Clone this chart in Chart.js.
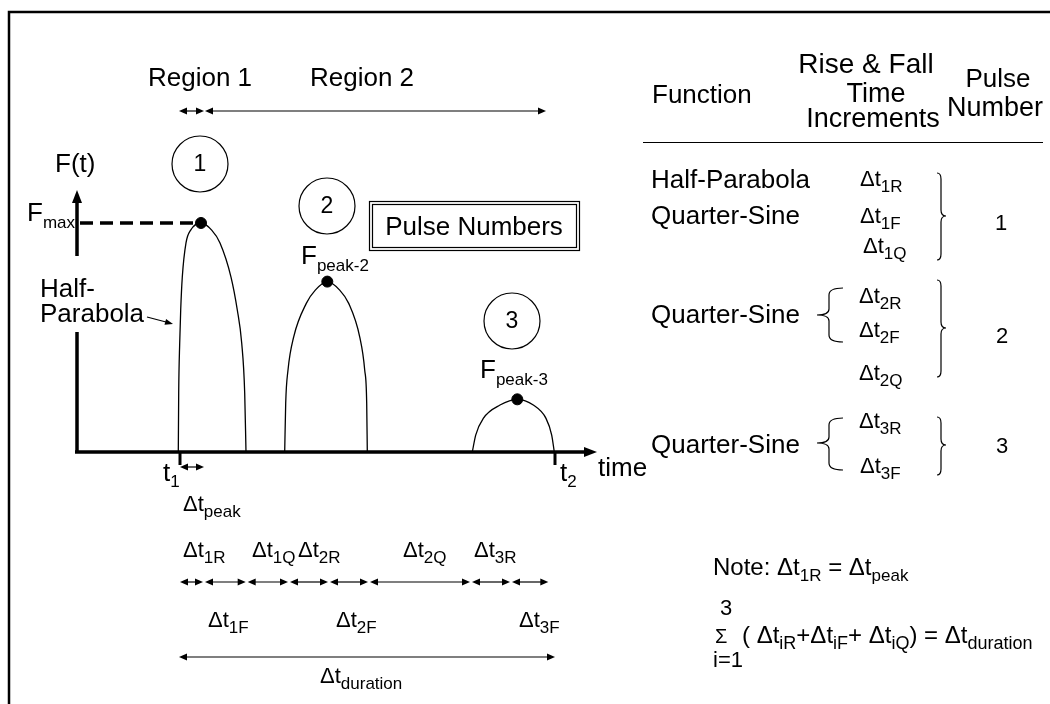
<!DOCTYPE html>
<html>
<head>
<meta charset="utf-8">
<script src="https://cdn.jsdelivr.net/npm/chart.js@4"></script>
<style>
  html, body { margin: 0; padding: 0; background: #fff; }
  canvas { display: block; }
</style>
</head>
<body>
<canvas id="pulseChart" width="1050" height="704"></canvas>
<script>
// pulse outlines (time units, force in % of Fmax)
const pulse1Time  = [10.13, 10.17, 10.27, 10.37, 10.53, 10.9, 11.37, 12.4, 13.47, 14.3, 15.4, 16.03, 16.47, 16.77, 16.9];
const pulse1Force = [0, 25.8, 47.6, 62, 76.4, 91.3, 96.9, 100, 96.9, 91.3, 76.4, 62, 47.6, 25.8, 0];

const pulse2Time  = [20.77, 20.87, 21.1, 21.67, 22.93, 23.83, 25.03, 26.27, 27.17, 28.27, 28.77, 28.97, 29.03];
const pulse2Force = [0, 21.3, 35.8, 50.3, 64.9, 70.7, 74.4, 70.7, 64.9, 50.3, 35.8, 21.3, 0];

const pulse3Time  = [39.53, 39.87, 40.63, 42.3, 44.03, 45.63, 46.9, 47.47, 47.73];
const pulse3Force = [0, 7.4, 14.7, 20.5, 23.0, 20.5, 14.7, 7.4, 0];

const peakTime  = [12.4, 25.03, 44.03];
const peakForce = [100, 74.4, 23.0];

// time marks
const t1 = 10.3, t2 = 47.8;
const segEdges = [10.2, 12.7, 16.97, 21.2, 25.2, 29.2, 39.4, 43.4, 47.23];
const regionEdges = [10.2, 12.7, 46.9];
const durationSpan = [10.2, 47.8];
const timeMax = 52, forceMax = 114.4;

const FONT = '"Liberation Sans", Arial, sans-serif';

function toPts(ts, fs) {
  return ts.map((t, i) => ({ x: t, y: fs[i] }));
}

function head(ctx, x, y, dx, dy, len, half) {
  ctx.beginPath();
  ctx.moveTo(x, y);
  ctx.lineTo(x - dx * len - dy * half, y - dy * len + dx * half);
  ctx.lineTo(x - dx * len + dy * half, y - dy * len - dx * half);
  ctx.closePath();
  ctx.fill();
}

function hArrow(ctx, xa, xb, y) {
  ctx.lineWidth = 1.2;
  ctx.beginPath();
  ctx.moveTo(xa + 4, y);
  ctx.lineTo(xb - 4, y);
  ctx.stroke();
  head(ctx, xa, y, -1, 0, 8, 3.5);
  head(ctx, xb, y, 1, 0, 8, 3.5);
}

function txt(ctx, s, x, y, size, align) {
  ctx.font = size + 'px ' + FONT;
  ctx.textAlign = align || 'left';
  ctx.fillText(s, x, y);
  return x + ctx.measureText(s).width;
}

function sub(ctx, base, subs, x, y, big, small, drop) {
  let e = txt(ctx, base, x, y, big);
  return txt(ctx, subs, e, y + (drop || 6), small);
}

function dt(ctx, subs, x, y, big, small) {
  return sub(ctx, '\u0394t', subs, x, y, big || 22, small || 17);
}

function rBrace(ctx, x, yTop, yBot, yMid) {
  ctx.lineWidth = 1.2;
  ctx.beginPath();
  ctx.moveTo(x - 4, yTop);
  ctx.quadraticCurveTo(x, yTop, x, yTop + 6);
  ctx.lineTo(x, yMid - 6);
  ctx.quadraticCurveTo(x, yMid, x + 5, yMid);
  ctx.quadraticCurveTo(x, yMid, x, yMid + 6);
  ctx.lineTo(x, yBot - 6);
  ctx.quadraticCurveTo(x, yBot, x - 4, yBot);
  ctx.stroke();
}

function lBrace(ctx, x, yTop, yBot, yMid) {
  ctx.lineWidth = 1.2;
  ctx.beginPath();
  ctx.moveTo(x + 14, yTop);
  ctx.quadraticCurveTo(x, yTop, x, yTop + 7);
  ctx.lineTo(x, yMid - 6);
  ctx.quadraticCurveTo(x, yMid, x - 12, yMid);
  ctx.quadraticCurveTo(x, yMid, x, yMid + 6);
  ctx.lineTo(x, yBot - 7);
  ctx.quadraticCurveTo(x, yBot, x + 14, yBot);
  ctx.stroke();
}

const axesPlugin = {
  id: 'axesPlugin',
  beforeDatasetsDraw(chart) {
    const ctx = chart.ctx;
    const xs = chart.scales.x, ys = chart.scales.y;
    const x0 = xs.getPixelForValue(0), y0 = ys.getPixelForValue(0);
    const xEnd = xs.getPixelForValue(timeMax), yTop = ys.getPixelForValue(forceMax);
    ctx.save();
    ctx.fillStyle = '#000';
    ctx.strokeStyle = '#000';

    // outer frame
    ctx.lineWidth = 2.5;
    ctx.strokeRect(9, 12, 1100, 760);

    // axes
    ctx.lineWidth = 3.5;
    ctx.beginPath();
    ctx.moveTo(x0, y0);
    ctx.lineTo(x0, yTop + 10);
    ctx.moveTo(x0 - 2, y0);
    ctx.lineTo(xEnd - 10, y0);
    ctx.stroke();
    head(ctx, x0, yTop, 0, -1, 13, 5);
    head(ctx, xEnd, y0, 1, 0, 13, 5);

    // t1 / t2 ticks
    [t1, t2].forEach(t => {
      const px = xs.getPixelForValue(t);
      ctx.beginPath();
      ctx.moveTo(px, y0);
      ctx.lineTo(px, y0 + 13);
      ctx.lineWidth = 3;
      ctx.stroke();
    });

    // Fmax dashed line
    const yMax = ys.getPixelForValue(peakForce[0]);
    ctx.setLineDash([13, 7]);
    ctx.lineWidth = 3.5;
    ctx.beginPath();
    ctx.moveTo(x0 + 3, yMax);
    ctx.lineTo(xs.getPixelForValue(peakTime[0]) - 4, yMax);
    ctx.stroke();
    ctx.setLineDash([]);

    // gap in the y axis behind the Half-Parabola label
    ctx.fillStyle = '#fff';
    ctx.fillRect(x0 - 4, 256, 8, 76);
    ctx.restore();
  },
  afterDraw(chart) {
    const ctx = chart.ctx;
    const xs = chart.scales.x;
    const px = t => xs.getPixelForValue(t);
    ctx.save();
    ctx.fillStyle = '#000';
    ctx.strokeStyle = '#000';
    ctx.textBaseline = 'alphabetic';

    // regions
    txt(ctx, 'Region 1', 148, 86, 26);
    txt(ctx, 'Region 2', 310, 86, 26);
    hArrow(ctx, px(regionEdges[0]), px(regionEdges[1]), 111);
    hArrow(ctx, px(regionEdges[1]) + 1, px(regionEdges[2]), 111);

    // axis labels
    txt(ctx, 'F(t)', 55, 172, 26);
    sub(ctx, 'F', 'max', 27, 221, 26, 17, 7);
    txt(ctx, 'Half-', 40, 297, 26);
    txt(ctx, 'Parabola', 40, 322, 26);
    ctx.lineWidth = 1.2;
    ctx.beginPath();
    ctx.moveTo(147, 317);
    ctx.lineTo(166, 322);
    ctx.stroke();
    head(ctx, 173, 324, 0.965, 0.26, 8, 3);
    txt(ctx, 'time', 598, 476, 26);
    sub(ctx, 't', '1', 163, 481, 26, 17, 6);
    sub(ctx, 't', '2', 560, 481, 26, 17, 6);

    // peak labels
    sub(ctx, 'F', 'peak-2', 301, 264, 26, 17, 7);
    sub(ctx, 'F', 'peak-3', 480, 378, 26, 17, 7);

    // pulse number circles
    const circles = [[200, 164, '1'], [327, 206, '2'], [512, 321, '3']];
    circles.forEach(c => {
      ctx.lineWidth = 1.2;
      ctx.beginPath();
      ctx.arc(c[0], c[1], 28, 0, Math.PI * 2);
      ctx.stroke();
      ctx.textBaseline = 'middle';
      txt(ctx, c[2], c[0], c[1] + 1, 23, 'center');
      ctx.textBaseline = 'alphabetic';
    });

    // Pulse Numbers box
    ctx.lineWidth = 1.2;
    ctx.strokeRect(369.5, 201.5, 210, 49);
    ctx.strokeRect(372.5, 204.5, 204, 43);
    txt(ctx, 'Pulse Numbers', 474, 235, 26, 'center');

    // delta t peak
    hArrow(ctx, px(t1), px(segEdges[1]), 467);
    dt(ctx, 'peak', 183, 511);

    // increments row
    dt(ctx, '1R', 183, 557);
    dt(ctx, '1Q', 252, 557);
    dt(ctx, '2R', 298, 557);
    dt(ctx, '2Q', 403, 557);
    dt(ctx, '3R', 474, 557);
    for (let i = 0; i < segEdges.length - 1; i++) {
      hArrow(ctx, px(segEdges[i]) + 1, px(segEdges[i + 1]) - 1, 582);
    }
    dt(ctx, '1F', 208, 627);
    dt(ctx, '2F', 336, 627);
    dt(ctx, '3F', 519, 627);

    hArrow(ctx, px(durationSpan[0]), px(durationSpan[1]), 657);
    dt(ctx, 'duration', 320, 683);

    // table header
    txt(ctx, 'Function', 652, 103, 26);
    txt(ctx, 'Rise & Fall', 866, 73, 28, 'center');
    txt(ctx, 'Time', 876, 102, 27, 'center');
    txt(ctx, 'Increments', 873, 127, 27, 'center');
    txt(ctx, 'Pulse', 998, 87, 26, 'center');
    txt(ctx, 'Number', 995, 116, 27, 'center');
    ctx.lineWidth = 1.2;
    ctx.beginPath();
    ctx.moveTo(643, 142.5);
    ctx.lineTo(1043, 142.5);
    ctx.stroke();

    // row 1
    txt(ctx, 'Half-Parabola', 651, 188, 26);
    txt(ctx, 'Quarter-Sine', 651, 224, 26);
    dt(ctx, '1R', 860, 186);
    dt(ctx, '1F', 860, 223);
    dt(ctx, '1Q', 863, 253);
    rBrace(ctx, 941, 173, 260, 216);
    txt(ctx, '1', 1001, 230, 22, 'center');

    // row 2
    txt(ctx, 'Quarter-Sine', 651, 323, 26);
    lBrace(ctx, 829, 288, 342, 315);
    dt(ctx, '2R', 859, 303);
    dt(ctx, '2F', 859, 337);
    dt(ctx, '2Q', 859, 380);
    rBrace(ctx, 941, 280, 377, 328);
    txt(ctx, '2', 1002, 343, 22, 'center');

    // row 3
    txt(ctx, 'Quarter-Sine', 651, 453, 26);
    lBrace(ctx, 829, 418, 470, 443);
    dt(ctx, '3R', 859, 428);
    dt(ctx, '3F', 860, 473);
    rBrace(ctx, 941, 417, 475, 445);
    txt(ctx, '3', 1002, 453, 22, 'center');

    // notes
    let x = txt(ctx, 'Note: ', 713, 575, 24);
    x = dt(ctx, '1R', x, 575, 24, 17);
    x = txt(ctx, ' = ', x, 575, 24);
    dt(ctx, 'peak', x, 575, 24, 17);

    txt(ctx, '3', 720, 615, 22);
    txt(ctx, '\u03A3', 715, 643, 20);
    txt(ctx, 'i=1', 713, 667, 22);
    x = txt(ctx, '( ', 742, 643, 24);
    x = dt(ctx, 'iR', x, 643, 24, 18);
    x = txt(ctx, '+', x, 643, 24);
    x = dt(ctx, 'iF', x, 643, 24, 18);
    x = txt(ctx, '+ ', x, 643, 24);
    x = dt(ctx, 'iQ', x, 643, 24, 18);
    x = txt(ctx, ') = ', x, 643, 24);
    dt(ctx, 'duration', x, 643, 24, 18);

    ctx.restore();
  }
};

const lineStyle = {
  showLine: true,
  borderColor: '#000',
  borderWidth: 1.3,
  pointRadius: 0,
  cubicInterpolationMode: 'monotone',
  fill: false
};

new Chart(document.getElementById('pulseChart'), {
  type: 'scatter',
  data: {
    datasets: [
      Object.assign({ label: 'Pulse 1', data: toPts(pulse1Time, pulse1Force) }, lineStyle),
      Object.assign({ label: 'Pulse 2', data: toPts(pulse2Time, pulse2Force) }, lineStyle),
      Object.assign({ label: 'Pulse 3', data: toPts(pulse3Time, pulse3Force) }, lineStyle),
      {
        label: 'Peaks',
        data: toPts(peakTime, peakForce),
        pointRadius: 5.5,
        backgroundColor: '#000',
        borderColor: '#000',
        showLine: false
      }
    ]
  },
  options: {
    responsive: false,
    animation: false,
    layout: { padding: { left: 77, right: 453, top: 190, bottom: 252 } },
    plugins: { legend: { display: false }, tooltip: { enabled: false } },
    scales: {
      x: { type: 'linear', min: 0, max: timeMax, display: false },
      y: { type: 'linear', min: 0, max: forceMax, display: false }
    }
  },
  plugins: [axesPlugin]
});
</script>
</body>
</html>
